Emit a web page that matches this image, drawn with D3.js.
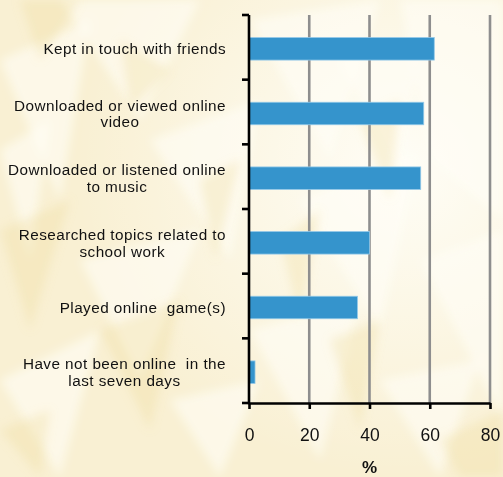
<!DOCTYPE html>
<html>
<head>
<meta charset="utf-8">
<script src="https://cdn.jsdelivr.net/npm/d3@7"></script>
<style>
html,body{margin:0;padding:0;background:#faf3dc;}
svg{display:block;}
</style>
</head>
<body>
<script>
const categories = [
  ["Kept in touch with friends"],
  ["Downloaded or viewed online", "video"],
  ["Downloaded or listened online", "to music"],
  ["Researched topics related to", "school work"],
  ["Played online  game(s)"],
  ["Have not been online  in the", "last seven days"]
];
const values = [61.5, 58, 57, 40, 36, 2];
const xTicks = [0, 20, 40, 60, 80];
const xTitle = "%";

const W = 503, H = 477;
const svg = d3.select("body").append("svg").attr("width", W).attr("height", H);

// parchment-like background
const defs = svg.append("defs");
const rg = defs.append("radialGradient").attr("id","glow").attr("cx","0.8").attr("cy","0.35").attr("r","0.65");
rg.append("stop").attr("offset","0").attr("stop-color","#fffef8").attr("stop-opacity",0.95);
rg.append("stop").attr("offset","1").attr("stop-color","#fffef8").attr("stop-opacity",0);
defs.append("filter").attr("id","soft").attr("x","-0.2").attr("y","-0.2").attr("width","1.4").attr("height","1.4")
  .append("feGaussianBlur").attr("stdDeviation", 5);
svg.append("rect").attr("width",W).attr("height",H).attr("fill","#f9f0d3");
svg.append("rect").attr("width",W).attr("height",H).attr("fill","url(#glow)");
const lightPolys = [
  "60,0 200,0 140,120", "0,60 90,20 60,200", "250,20 380,0 330,160", "400,0 503,0 503,220 430,160",
  "150,140 260,100 230,260", "300,200 420,150 380,330", "420,260 503,230 503,420", "80,260 200,230 140,380",
  "250,330 360,300 320,460", "0,380 100,330 60,477", "380,380 480,360 440,477", "170,400 260,380 220,477",
  "340,60 420,40 400,180", "0,150 50,120 30,260"
];
const yellowPolys = [
  "0,230 70,200 30,330", "100,330 180,300 150,430", "280,240 320,210 300,320", "20,0 80,0 40,60",
  "200,180 240,160 215,260", "330,340 380,320 360,430", "440,440 503,410 503,477 460,477", "120,40 170,70 130,110",
  "0,430 50,410 40,477", "360,120 400,100 390,200"
];
svg.append("g").attr("filter","url(#soft)").selectAll("polygon").data(lightPolys).join("polygon")
  .attr("points", d => d).attr("fill", "#fffef6").attr("opacity", 0.6);
svg.append("g").attr("filter","url(#soft)").selectAll("polygon").data(yellowPolys).join("polygon")
  .attr("points", d => d).attr("fill", "#efdc98").attr("opacity", 0.3);

const x = d3.scaleLinear().domain([0, 80]).range([249, 490]);
const y = d3.scaleBand().domain(d3.range(categories.length)).range([15, 403]);
const barH = 22.5;

// gridlines
svg.append("g").selectAll("line").data(xTicks.filter(t => t > 0)).join("line")
  .attr("x1", d => x(d)).attr("x2", d => x(d))
  .attr("y1", y.range()[0]).attr("y2", y.range()[1])
  .attr("stroke", "#8e8e8e").attr("stroke-width", 2.6);

// bars
svg.append("g").selectAll("rect").data(values).join("rect")
  .attr("x", x(0))
  .attr("y", (d, i) => y(i) + (y.bandwidth() - barH) / 2 + 1.5)
  .attr("width", d => x(d) - x(0))
  .attr("height", barH)
  .attr("fill", "#3594cc")
  .attr("stroke", "#93c8e8").attr("stroke-width", 0.8);

// x axis
const xa = svg.append("g").attr("transform", `translate(0,${y.range()[1]})`)
  .call(d3.axisBottom(x).tickValues(xTicks).tickSize(6).tickPadding(20).tickSizeOuter(0));
xa.select(".domain").attr("stroke", "#000").attr("stroke-width", 2.6);
xa.selectAll(".tick line").attr("stroke", "#000").attr("stroke-width", 2.6);
xa.selectAll(".tick text").attr("font-family", "Liberation Sans, Arial, sans-serif").attr("font-size", 17.5).attr("fill", "#111");

// y axis (ticks at category boundaries)
const bounds = y.domain().map(d => y(d)).concat([y.range()[1]]);
const ya = svg.append("g");
ya.append("line").attr("x1", x(0)).attr("x2", x(0)).attr("y1", y.range()[0]).attr("y2", y.range()[1] + 1.3)
  .attr("stroke", "#000").attr("stroke-width", 2.6);
ya.selectAll("line.t").data(bounds).join("line").attr("class","t")
  .attr("x1", x(0) - 7).attr("x2", x(0)).attr("y1", d => d).attr("y2", d => d)
  .attr("stroke", "#000").attr("stroke-width", 2.6);

// category labels
const labelRight = 226;
const lineH = 16.7;
const lg = svg.append("g").attr("font-family", "Liberation Sans, Arial, sans-serif").attr("font-size", 15.3)
  .attr("letter-spacing", 0.45).attr("fill", "#111");
categories.forEach((lines, i) => {
  const cy = y(i) + y.bandwidth() / 2 + 1.5;
  const t = lg.append("text").attr("text-anchor", "middle").style("white-space", "pre");
  lines.forEach((ln, j) => {
    t.append("tspan").text(ln)
      .attr("y", cy + (j - (lines.length - 1) / 2) * lineH + 5.4);
  });
  const widths = [];
  t.selectAll("tspan").each(function(){ widths.push(this.getComputedTextLength()); });
  const cx = labelRight - d3.max(widths) / 2;
  t.selectAll("tspan").attr("x", cx);
});

// axis title
svg.append("text").attr("x", x(40)).attr("y", 473).attr("text-anchor", "middle")
  .attr("font-family", "Liberation Sans, Arial, sans-serif").attr("font-size", 17).attr("font-weight", "bold")
  .attr("fill", "#111").text(xTitle);
</script>
</body>
</html>
